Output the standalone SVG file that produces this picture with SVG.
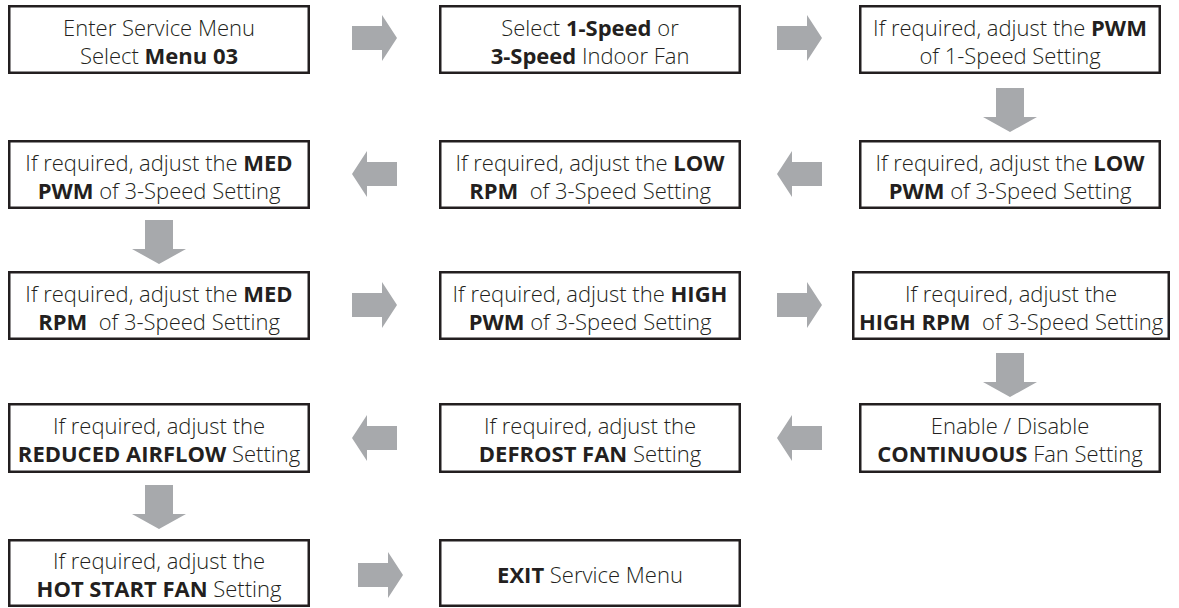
<svg xmlns="http://www.w3.org/2000/svg" width="1179" height="608" viewBox="0 0 1179 608">
<style>
.box{fill:#fff;stroke:#231f20;stroke-width:2.5}
.t{font-family:"Open Sans","Noto Sans","DejaVu Sans",sans-serif;font-size:22px;font-weight:300;fill:#231f20;text-anchor:middle;white-space:pre}
.b{font-weight:bold}
.arr{fill:#a7a9ac}
</style>
<defs>
<path id="ar" d="M0,-12 H30 V-23 L45,0 L30,23 V12 H0 Z"/>
<path id="al" d="M45,-12 H15 V-23 L0,0 L15,23 V12 H45 Z"/>
<path id="ad" d="M-14,0 H14 V29 H27 L0,44 L-27,29 H-14 Z"/>
</defs>
<rect width="1179" height="608" fill="#fff"/>
<g id="connectors" class="arr">
<use href="#ar" x="352" y="38"/>
<use href="#ar" x="777" y="38"/>
<use href="#ad" x="1010" y="88"/>
<use href="#al" x="777" y="174"/>
<use href="#al" x="352" y="174"/>
<use href="#ad" x="159" y="220"/>
<use href="#ar" x="352" y="305"/>
<use href="#ar" x="777" y="305"/>
<use href="#ad" x="1010" y="353"/>
<use href="#al" x="777" y="438"/>
<use href="#al" x="352" y="438"/>
<use href="#ad" x="159" y="485"/>
<use href="#ar" x="358" y="575"/>
</g>
<g id="n1"><rect class="box" x="9.25" y="6.25" width="299.5" height="66.5"/>
<text class="t" x="159" y="36">Enter Service Menu</text>
<text class="t" x="159" y="64">Select <tspan class="b">Menu 03</tspan></text></g>
<g id="n2"><rect class="box" x="440.25" y="6.25" width="299.5" height="66.5"/>
<text class="t" x="590" y="36">Select <tspan class="b">1-Speed</tspan> or</text>
<text class="t" x="590" y="64"><tspan class="b">3-Speed</tspan> Indoor Fan</text></g>
<g id="n3"><rect class="box" x="860.25" y="6.25" width="299.5" height="66.5"/>
<text class="t" x="1010" y="36">If required, adjust the <tspan class="b">PWM</tspan></text>
<text class="t" x="1010" y="64">of 1-Speed Setting</text></g>
<g id="n4"><rect class="box" x="860.25" y="141.25" width="299.5" height="66.5"/>
<text class="t" x="1010" y="171">If required, adjust the <tspan class="b">LOW</tspan></text>
<text class="t" x="1010" y="199"><tspan class="b">PWM</tspan> of 3-Speed Setting</text></g>
<g id="n5"><rect class="box" x="440.25" y="141.25" width="299.5" height="66.5"/>
<text class="t" x="590" y="171">If required, adjust the <tspan class="b">LOW</tspan></text>
<text class="t" x="590" y="199"><tspan class="b">RPM</tspan>  of 3-Speed Setting</text></g>
<g id="n6"><rect class="box" x="9.25" y="141.25" width="299.5" height="66.5"/>
<text class="t" x="159" y="171">If required, adjust the <tspan class="b">MED</tspan></text>
<text class="t" x="159" y="199"><tspan class="b">PWM</tspan> of 3-Speed Setting</text></g>
<g id="n7"><rect class="box" x="9.25" y="272.25" width="299.5" height="66.5"/>
<text class="t" x="159" y="302">If required, adjust the <tspan class="b">MED</tspan></text>
<text class="t" x="159" y="330"><tspan class="b">RPM</tspan>  of 3-Speed Setting</text></g>
<g id="n8"><rect class="box" x="440.25" y="272.25" width="299.5" height="66.5"/>
<text class="t" x="590" y="302">If required, adjust the <tspan class="b">HIGH</tspan></text>
<text class="t" x="590" y="330"><tspan class="b">PWM</tspan> of 3-Speed Setting</text></g>
<g id="n9"><rect class="box" x="853.25" y="272.25" width="315.5" height="66.5"/>
<text class="t" x="1011" y="302">If required, adjust the</text>
<text class="t" x="1011" y="330"><tspan class="b">HIGH RPM</tspan>  of 3-Speed Setting</text></g>
<g id="n10"><rect class="box" x="860.25" y="404.25" width="299.5" height="67.5"/>
<text class="t" x="1010" y="434">Enable / Disable</text>
<text class="t" x="1010" y="462"><tspan class="b">CONTINUOUS</tspan> Fan Setting</text></g>
<g id="n11"><rect class="box" x="440.25" y="404.25" width="299.5" height="67.5"/>
<text class="t" x="590" y="434">If required, adjust the</text>
<text class="t" x="590" y="462"><tspan class="b">DEFROST FAN</tspan> Setting</text></g>
<g id="n12"><rect class="box" x="9.25" y="404.25" width="299.5" height="67.5"/>
<text class="t" x="159" y="434">If required, adjust the</text>
<text class="t" x="159" y="462"><tspan class="b">REDUCED AIRFLOW</tspan> Setting</text></g>
<g id="n13"><rect class="box" x="9.25" y="540.25" width="299.5" height="65.5"/>
<text class="t" x="159" y="569">If required, adjust the</text>
<text class="t" x="159" y="597"><tspan class="b">HOT START FAN</tspan> Setting</text></g>
<g id="n14"><rect class="box" x="440.25" y="540.25" width="299.5" height="65.5"/>
<text class="t" x="590" y="583"><tspan class="b">EXIT</tspan> Service Menu</text></g>
</svg>
